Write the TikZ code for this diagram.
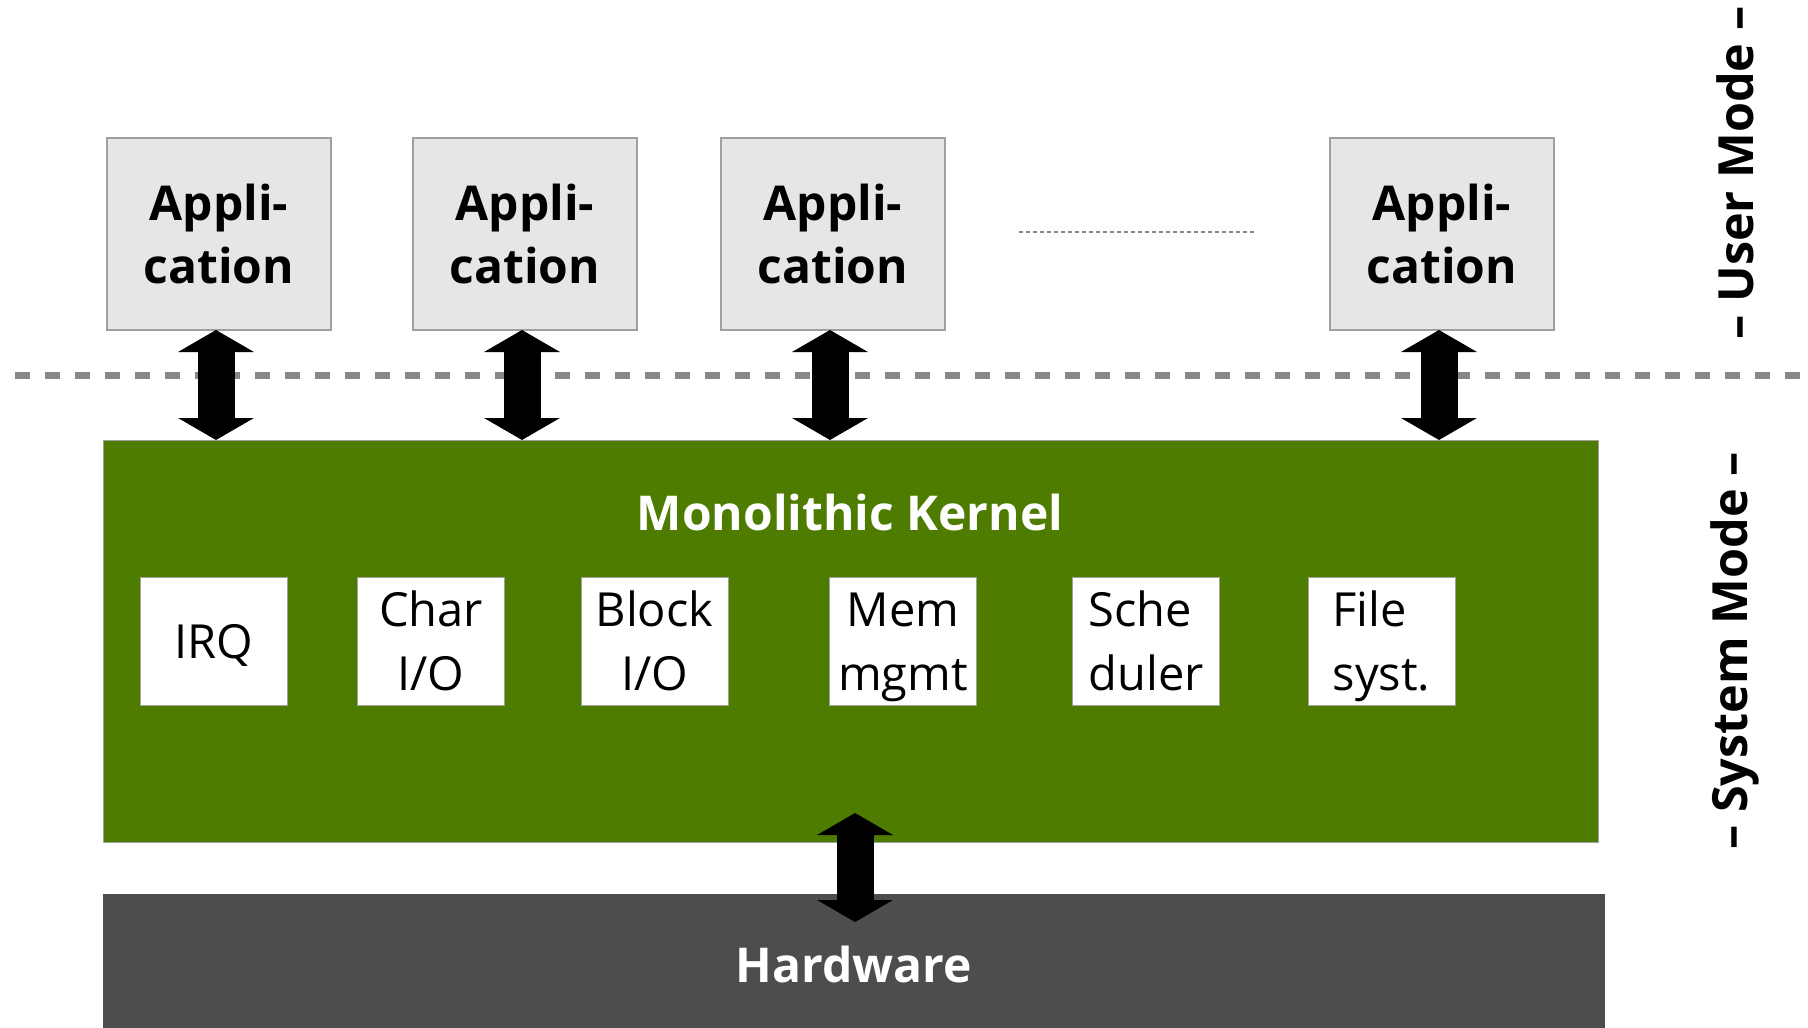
\documentclass[tikz,border=0pt]{standalone}
\usepackage{fontspec}
\setmainfont{Open Sans}
\usetikzlibrary{arrows.meta}
\definecolor{appgray}{HTML}{E6E6E6}
\definecolor{boxline}{HTML}{A0A0A0}
\definecolor{kgreen}{HTML}{4E7C00}
\definecolor{hwgray}{HTML}{4D4D4D}
\definecolor{sepgray}{HTML}{888888}
% fixed first-line height and last-line depth, so every part box centres alike
\newcommand\partop{\rule{0pt}{36pt}}
\newcommand\partlast[1]{\smash{#1}\rule[-2pt]{0pt}{2pt}}
\begin{document}
\begin{tikzpicture}[x=1pt,y=-1pt,
  app/.style={draw=boxline, line width=1.5pt, fill=appgray,
    minimum width=224pt, minimum height=192pt, inner sep=0pt, outer sep=0pt,
    align=center, font=\fontsize{48}{63}\selectfont\bfseries},
  part/.style={draw=boxline, line width=1pt, fill=white,
    minimum width=147pt, minimum height=128pt, inner sep=0pt, outer sep=0pt,
    align=center, font=\fontsize{47}{64}\selectfont},
  layer/.style={minimum width=#1, inner sep=0pt, outer sep=0pt},
  title/.style={text=white, font=\fontsize{48}{56}\selectfont\bfseries},
  modelabel/.style={rotate=90, font=\fontsize{48.5}{58}\selectfont\bfseries},
  bigarrow/.style={line width=37pt,
    {Triangle[length=22pt,width=75pt]}-{Triangle[length=22pt,width=75pt]}},
]
\useasboundingbox (0,0) rectangle (1808,1028);

% user/system boundary
\coordinate (sepL) at (15,375);
\coordinate (sepR) at (1808,375);
\draw[sepgray, line width=7pt, dash pattern=on 15pt off 15pt] (sepL) -- (sepR);

% applications
\node[app] (a1) at (219,234) {Appli-\\cation};
\node[app] (a2) at (525,234) {Appli-\\cation};
\node[app] (a3) at (833,234) {Appli-\\cation};
\node[app] (a4) at (1442,234) {Appli-\\cation};
\coordinate (gapL) at (1019,232);
\coordinate (gapR) at (1257,232);
\draw[sepgray, line width=1.2pt, dash pattern=on 4pt off 3pt] (gapL) -- (gapR);

% kernel
\node[layer=1495pt, minimum height=402pt, fill=kgreen, draw=boxline, line width=0.8pt]
  (kernel) at (850.5,641) {};
\node[title] (ktitle) at (850,512) {Monolithic Kernel};
\node[part] (irq)   at (213.5,641) {\partop\partlast{IRQ}};
\node[part] (char)  at (431,641)   {\partop Char\\\partlast{I/O}};
\node[part] (block) at (654.5,641) {\partop Block\\\partlast{I/O}};
\node[part] (mem)   at (903,641)   {\partop Mem\\\partlast{mgmt}};
\node[part, align=left] (sched) at (1146,641)  {\partop Sche\\\partlast{duler}};
\node[part, align=left] (fs)    at (1381.5,641) {\partop File\\\partlast{syst.}};

% hardware
\node[layer=1502pt, minimum height=134pt, fill=hwgray] (hw) at (854,961) {};
\node[title] (hwtitle) at (854,964) {Hardware};

% system call arrows
\draw[bigarrow] ([xshift=-3pt]a1.south) -- ([xshift=-3pt]a1.south |- kernel.north);
\draw[bigarrow] ([xshift=-3pt]a2.south) -- ([xshift=-3pt]a2.south |- kernel.north);
\draw[bigarrow] ([xshift=-3pt]a3.south) -- ([xshift=-3pt]a3.south |- kernel.north);
\draw[bigarrow] ([xshift=-3pt]a4.south) -- ([xshift=-3pt]a4.south |- kernel.north);
\coordinate (kdown) at (855,813);
\coordinate (hwup) at (855,922);
\draw[bigarrow] (kdown) -- (hwup);

% mode labels
\node[modelabel] (umode) at (1735,173) {-- User Mode --};
\node[modelabel] (smode) at (1735,651) {-- System Mode --};
\end{tikzpicture}
\end{document}
